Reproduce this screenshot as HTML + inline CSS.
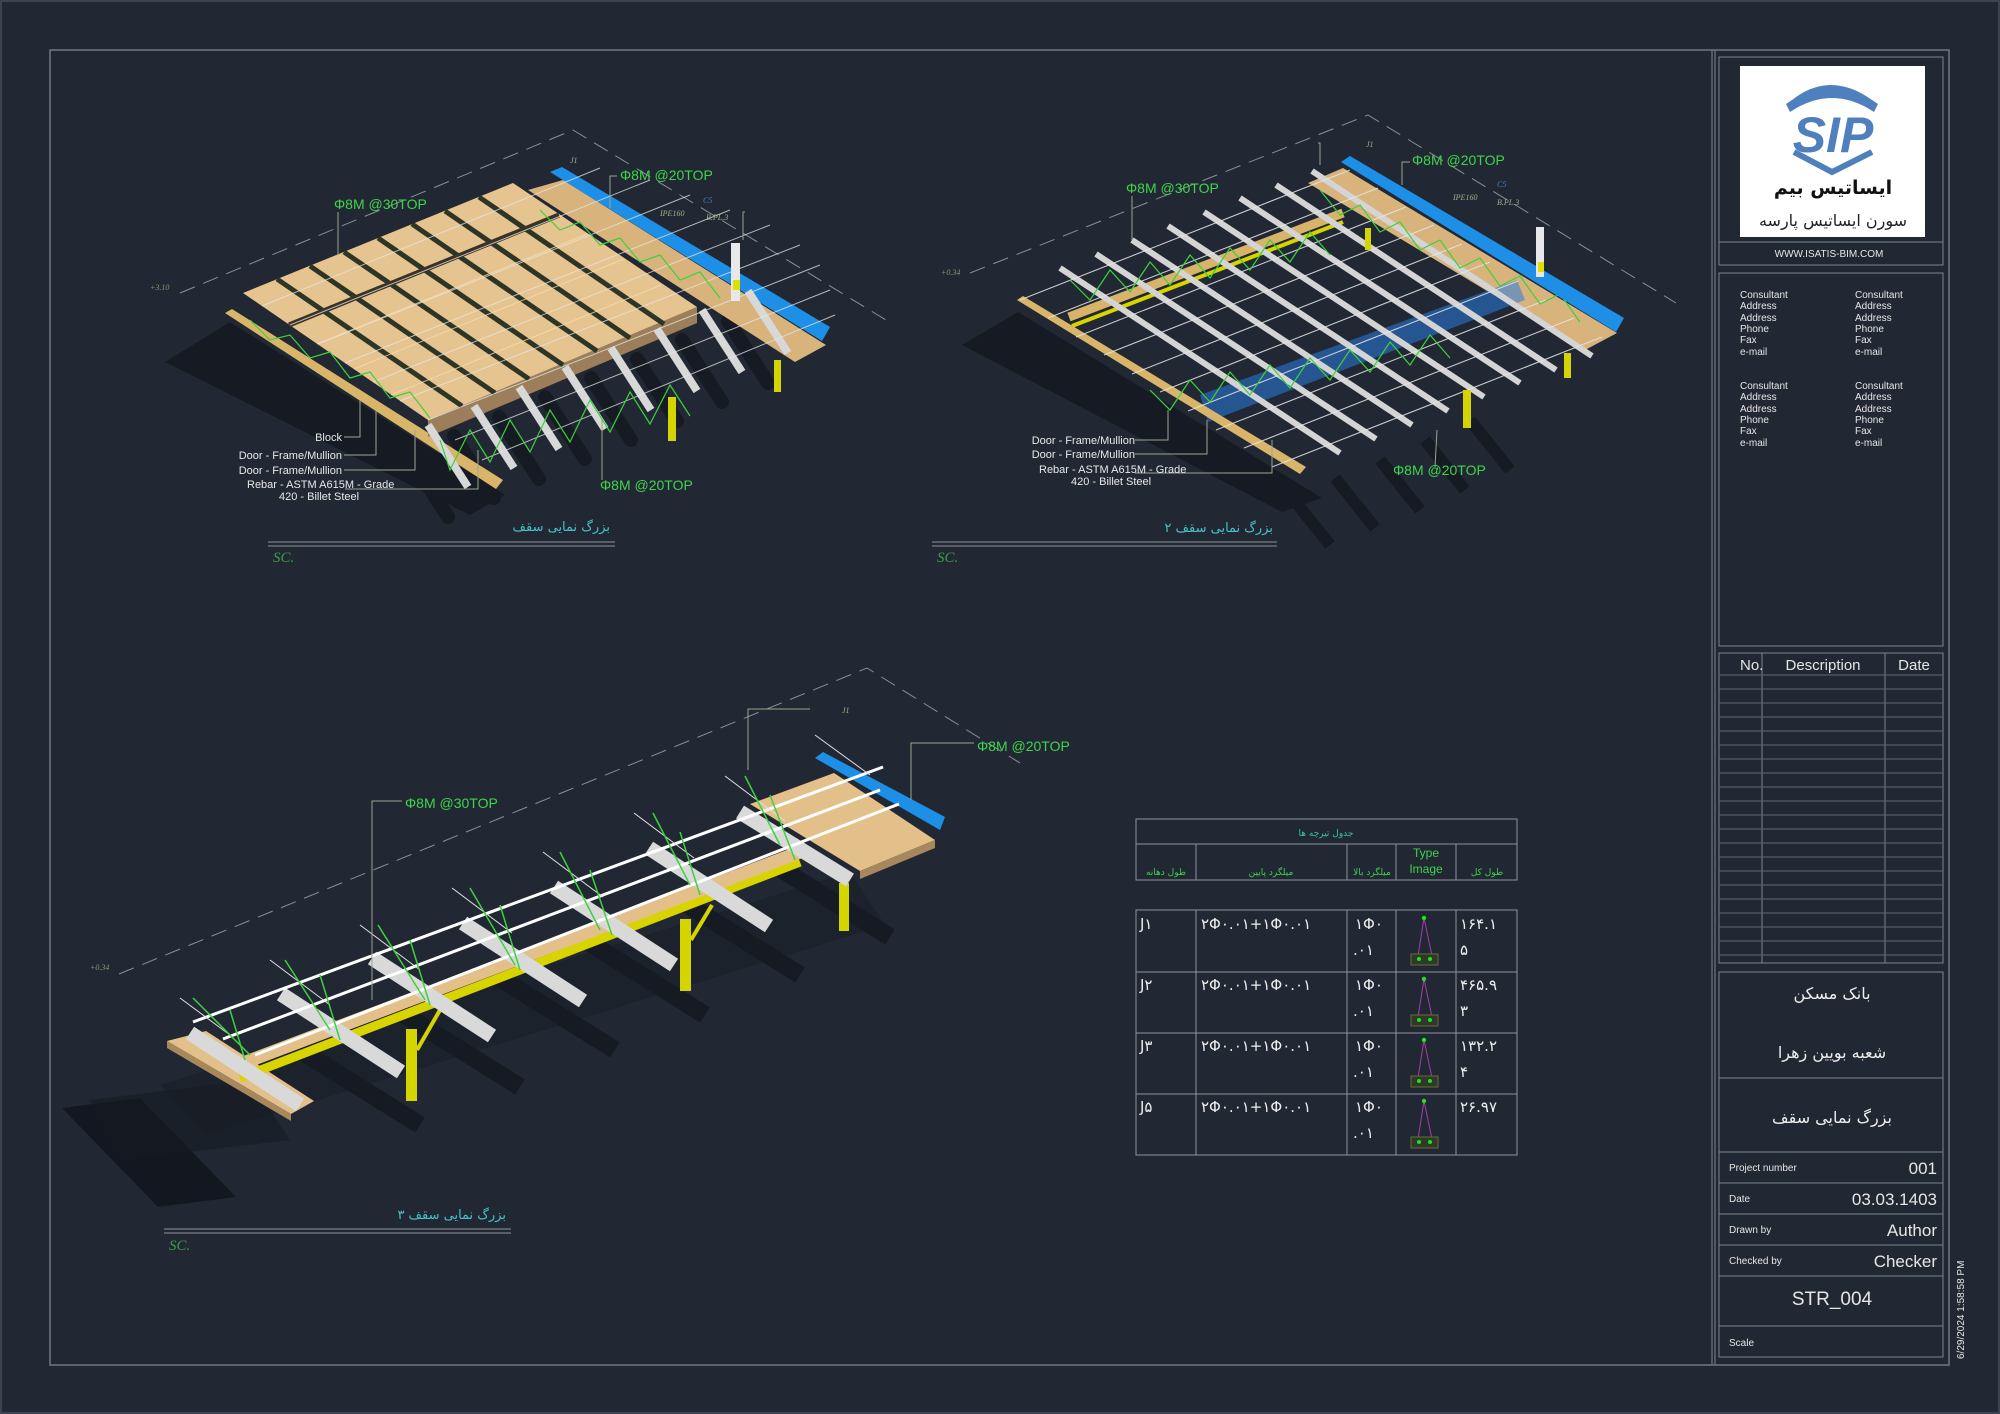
<!DOCTYPE html>
<html><head><meta charset="utf-8"><style>
html,body{margin:0;padding:0;background:#222833;}
svg{display:block}
.lb{font-family:"Liberation Sans",sans-serif;fill:#e8e8e8;font-size:11px}
.gr{font-family:"Liberation Sans",sans-serif;fill:#3fd44c;font-size:14px}
.fa{font-family:"DejaVu Sans","Liberation Sans",sans-serif}
.cap{font-family:"DejaVu Sans",sans-serif;fill:#45c4c8;font-size:13px}
.sc{font-family:"Liberation Serif",serif;font-style:italic;fill:#3a9a4a;font-size:15px}
.tb{font-family:"Liberation Sans",sans-serif;fill:#e6e6e6}
.tiny{font-family:"Liberation Serif",serif;font-style:italic;font-size:8px}
</style></head><body>
<svg width="2000" height="1414" viewBox="0 0 2000 1414" xmlns="http://www.w3.org/2000/svg">
<rect x="0" y="0" width="2000" height="1414" fill="#222833"/>
<rect x="1" y="1" width="1998" height="1412" fill="none" stroke="#3a4350" stroke-width="2"/>
<!-- frame -->
<rect x="50" y="50" width="1899" height="1315" fill="none" stroke="#6e7886" stroke-width="1.5"/>
<line x1="1712" y1="50" x2="1712" y2="1365" stroke="#6e7886" stroke-width="1.2"/>
<line x1="1715" y1="50" x2="1715" y2="1365" stroke="#6e7886" stroke-width="1.2"/>

<!-- ================= VIEW 1 ================= -->
<g>
<polyline points="180,293 573,130 886,320" fill="none" stroke="#8a8f96" stroke-width="1" stroke-dasharray="16 9"/>
<polygon points="165,362 230,322 505,495 470,515" fill="#161b23"/>
<g stroke="#161b23" stroke-width="14" stroke-linecap="round">
<line x1="408" y1="455" x2="448" y2="517"/><line x1="454" y1="436" x2="494" y2="498"/><line x1="499" y1="417" x2="539" y2="479"/><line x1="545" y1="397" x2="585" y2="459"/><line x1="591" y1="378" x2="631" y2="440"/><line x1="637" y1="359" x2="677" y2="421"/><line x1="682" y1="340" x2="722" y2="402"/><line x1="728" y1="321" x2="768" y2="383"/>
</g>
<polygon points="225,313 232,309 503,480 496,489" fill="#d9b56a"/>
<polygon points="428,420 697,307 697,323 428,437" fill="#9c7f5a"/>
<polygon points="243,293 513,183 697,307 428,420" fill="#e6c48f"/>
<g stroke="#2d3526" stroke-width="5">
<line x1="277" y1="279" x2="462" y2="406"/><line x1="310" y1="266" x2="495" y2="393"/><line x1="344" y1="252" x2="529" y2="379"/><line x1="378" y1="238" x2="563" y2="365"/><line x1="412" y1="224" x2="597" y2="351"/><line x1="445" y1="211" x2="630" y2="338"/><line x1="479" y1="197" x2="664" y2="324"/>
</g>
<line x1="289" y1="325" x2="559" y2="215" stroke="#3a3226" stroke-width="5"/>
<g stroke="#f5dcb0" stroke-width="1" opacity=".8">
<line x1="317" y1="344" x2="587" y2="234"/><line x1="354" y1="369" x2="624" y2="259"/><line x1="391" y1="395" x2="661" y2="285"/>
</g>
<polygon points="528,190 563,180 826,345 795,362" fill="#d8b47c"/>
<polygon points="550,172 562,167 830,327 822,341" fill="#1e8fe6"/>
<g stroke="#d8d8d8" stroke-width="8">
<line x1="428" y1="425" x2="468" y2="487"/><line x1="474" y1="406" x2="514" y2="468"/><line x1="519" y1="387" x2="559" y2="449"/><line x1="565" y1="367" x2="605" y2="429"/><line x1="611" y1="348" x2="651" y2="410"/><line x1="657" y1="329" x2="697" y2="391"/><line x1="702" y1="310" x2="742" y2="372"/><line x1="748" y1="291" x2="788" y2="353"/>
</g>
<g stroke="#e6e6e6" stroke-width="1" opacity=".75">
<line x1="262" y1="306" x2="600" y2="168"/><line x1="290" y1="325" x2="650" y2="180"/><line x1="318" y1="344" x2="690" y2="195"/><line x1="345" y1="363" x2="730" y2="210"/><line x1="373" y1="382" x2="770" y2="225"/><line x1="400" y1="401" x2="800" y2="245"/><line x1="428" y1="420" x2="820" y2="265"/><line x1="455" y1="440" x2="830" y2="290"/><line x1="482" y1="460" x2="835" y2="315"/>
</g>
<g stroke="#3bd23b" stroke-width="1.2" fill="none">
<polyline points="540,210 560,230 580,222 600,245 620,238 640,262 660,255 680,280 700,272 720,298"/>
<polyline points="440,440 450,470 470,430 490,462 510,420 530,452 550,410 570,442 590,400 610,432 630,392 650,424 670,385 690,416"/>
<polyline points="250,320 270,340 290,335 310,358 330,352 350,378 370,372 390,398 410,392 430,418"/>
</g>
<rect x="731" y="243" width="9" height="58" fill="#e8e8e8"/>
<rect x="733" y="280" width="7" height="10" fill="#e0e000"/>
<rect x="668" y="397" width="8" height="44" fill="#d4d400"/>
<rect x="774" y="360" width="7" height="32" fill="#d4d400"/>
<!-- leaders -->
<g stroke="#9aa48e" stroke-width="1" fill="none">
<polyline points="338,212 338,255"/><polyline points="617,176 610,176 610,208"/><polyline points="602,480 602,420"/>
<polyline points="344,437 360,437 360,400"/><polyline points="344,455 376,455 376,410"/><polyline points="344,470 415,470 415,430"/><polyline points="345,489 478,489 478,450"/>
<polyline points="745,212 743,212 743,240"/>
</g>
<text x="334" y="209" class="gr">Φ8M @30TOP</text>
<text x="620" y="180" class="gr">Φ8M @20TOP</text>
<text x="600" y="490" class="gr">Φ8M @20TOP</text>
<text x="570" y="163" class="tiny" fill="#9fb08a">J1</text>
<text x="703" y="203" class="tiny" fill="#4a7bd0">C5</text>
<text x="660" y="216" class="tiny" fill="#9fb08a">IPE160</text>
<text x="706" y="220" class="tiny" fill="#9fb08a">B.PL.3</text>
<text x="150" y="290" class="tiny" fill="#7f9a6f">+3.10</text>
<text x="342" y="441" class="lb" text-anchor="end">Block</text>
<text x="342" y="459" class="lb" text-anchor="end">Door - Frame/Mullion</text>
<text x="342" y="474" class="lb" text-anchor="end">Door - Frame/Mullion</text>
<text x="247" y="488" class="lb">Rebar - ASTM A615M - Grade</text>
<text x="279" y="500" class="lb">420 - Billet Steel</text>
<text x="610" y="531" class="cap" text-anchor="end">بزرگ نمایی سقف</text>
<line x1="268" y1="542" x2="615" y2="542" stroke="#8c939c" stroke-width="1"/>
<line x1="268" y1="546" x2="615" y2="546" stroke="#8c939c" stroke-width="1"/>
<text x="273" y="562" class="sc">SC.</text>
</g>

<!-- ================= VIEW 2 ================= -->
<g>
<polyline points="970,273 1368,115 1676,303" fill="none" stroke="#8a8f96" stroke-width="1" stroke-dasharray="16 9"/>
<polygon points="962,345 1018,312 1322,498 1282,512" fill="#161b23"/>
<g stroke="#161b23" stroke-width="12">
<line x1="1290" y1="495" x2="1330" y2="545"/><line x1="1335" y1="478" x2="1375" y2="528"/><line x1="1380" y1="460" x2="1420" y2="510"/><line x1="1425" y1="440" x2="1465" y2="490"/><line x1="1470" y1="420" x2="1510" y2="470"/>
</g>
<polygon points="1308,183 1343,168 1617,333 1585,350" fill="#d8b47c"/>
<line x1="1069" y1="317" x2="1343" y2="213" stroke="#d8b36a" stroke-width="9"/>
<line x1="1072" y1="326" x2="1343" y2="222" stroke="#d8d400" stroke-width="4"/>
<polygon points="1200,395 1517,280 1525,300 1208,422" fill="#2a7be0" opacity=".55"/>
<polygon points="1017,300 1023,296 1306,467 1300,474" fill="#d9b56a"/>
<g stroke="#d4d4d4" stroke-width="6">
<line x1="1060" y1="268" x2="1340" y2="453"/><line x1="1096" y1="254" x2="1376" y2="439"/><line x1="1132" y1="240" x2="1412" y2="425"/><line x1="1168" y1="226" x2="1448" y2="411"/><line x1="1204" y1="212" x2="1484" y2="397"/><line x1="1240" y1="198" x2="1520" y2="383"/><line x1="1276" y1="185" x2="1556" y2="370"/><line x1="1312" y1="171" x2="1592" y2="356"/>
</g>
<g stroke="#e6e6e6" stroke-width="1.1" opacity=".85">
<line x1="1020" y1="300" x2="1350" y2="170"/><line x1="1048" y1="318" x2="1378" y2="188"/><line x1="1076" y1="337" x2="1406" y2="207"/><line x1="1104" y1="355" x2="1434" y2="225"/><line x1="1132" y1="374" x2="1462" y2="244"/><line x1="1160" y1="392" x2="1490" y2="262"/><line x1="1188" y1="411" x2="1518" y2="281"/><line x1="1216" y1="430" x2="1546" y2="300"/><line x1="1244" y1="448" x2="1574" y2="318"/><line x1="1272" y1="467" x2="1602" y2="337"/>
</g>
<g stroke="#3bd23b" stroke-width="1.2" fill="none">
<polyline points="1070,280 1090,300 1110,270 1130,292 1150,262 1170,285 1190,255 1210,278 1230,248 1250,270 1270,240 1290,262 1310,232 1330,255"/>
<polyline points="1150,390 1170,410 1190,380 1210,402 1230,372 1250,395 1270,365 1290,388 1310,358 1330,380 1350,350 1370,372 1390,342 1410,365 1430,335 1450,358"/>
<polyline points="1320,190 1340,215 1360,205 1380,232 1400,222 1420,250 1440,240 1460,268 1480,258 1500,286 1520,276 1540,304 1560,294 1580,322"/>
</g>
<polygon points="1341,162 1350,156 1624,318 1616,332" fill="#1e8fe6"/>
<rect x="1536" y="227" width="8" height="50" fill="#e8e8e8"/>
<rect x="1538" y="262" width="6" height="10" fill="#e0e000"/>
<rect x="1463" y="390" width="8" height="38" fill="#d4d400"/>
<rect x="1564" y="353" width="7" height="25" fill="#d4d400"/>
<rect x="1365" y="228" width="6" height="22" fill="#d4d400"/>
<g stroke="#9aa48e" stroke-width="1" fill="none">
<polyline points="1132,196 1132,240"/><polyline points="1410,162 1402,162 1402,185"/><polyline points="1435,467 1437,430"/>
<polyline points="1135,440 1168,440 1168,410"/><polyline points="1135,454 1207,454 1207,420"/><polyline points="1135,473 1272,473 1272,440"/>
<polyline points="1318,143 1320,143 1320,165"/>
</g>
<text x="1126" y="193" class="gr">Φ8M @30TOP</text>
<text x="1412" y="165" class="gr">Φ8M @20TOP</text>
<text x="1393" y="475" class="gr">Φ8M @20TOP</text>
<text x="1366" y="147" class="tiny" fill="#9fb08a">J1</text>
<text x="1497" y="187" class="tiny" fill="#4a7bd0">C5</text>
<text x="1453" y="200" class="tiny" fill="#9fb08a">IPE160</text>
<text x="1497" y="205" class="tiny" fill="#9fb08a">B.PL.3</text>
<text x="941" y="275" class="tiny" fill="#7f9a6f">+0.34</text>
<text x="1135" y="444" class="lb" text-anchor="end">Door - Frame/Mullion</text>
<text x="1135" y="458" class="lb" text-anchor="end">Door - Frame/Mullion</text>
<text x="1039" y="473" class="lb">Rebar - ASTM A615M - Grade</text>
<text x="1071" y="485" class="lb">420 - Billet Steel</text>
<text x="1273" y="532" class="cap" text-anchor="end">بزرگ نمایی سقف ۲</text>
<line x1="932" y1="542" x2="1277" y2="542" stroke="#8c939c" stroke-width="1"/>
<line x1="932" y1="546" x2="1277" y2="546" stroke="#8c939c" stroke-width="1"/>
<text x="937" y="562" class="sc">SC.</text>
</g>

<!-- ================= VIEW 3 ================= -->
<g>
<polyline points="119,974 867,668 1020,763" fill="none" stroke="#8a8f96" stroke-width="1" stroke-dasharray="16 9"/>
<polygon points="160,1085 850,872 885,925 205,1135" fill="#161b23" opacity=".45"/>
<polygon points="62,1108 140,1098 236,1197 158,1207" fill="#131820"/>
<polygon points="90,1100 250,1080 290,1140 120,1160" fill="#161b23" opacity=".6"/>
<g stroke="#161b23" stroke-width="18">
<line x1="300" y1="1050" x2="420" y2="1125"/><line x1="400" y1="1012" x2="520" y2="1087"/><line x1="495" y1="975" x2="615" y2="1050"/><line x1="585" y1="940" x2="705" y2="1015"/><line x1="680" y1="900" x2="800" y2="975"/><line x1="770" y1="862" x2="890" y2="937"/>
</g>
<polygon points="167,1041 206,1031 314,1101 291,1114" fill="#e3c089"/>
<polygon points="167,1041 291,1114 291,1121 167,1048" fill="#a7875c"/>
<polygon points="750,804 834,773 935,840 860,871" fill="#e3c089"/>
<polygon points="860,871 935,840 935,848 860,879" fill="#a7875c"/>
<line x1="240" y1="1078" x2="800" y2="862" stroke="#d8d400" stroke-width="9"/>
<line x1="230" y1="1068" x2="800" y2="852" stroke="#e3c089" stroke-width="13"/>
<g fill="#d4d400">
<rect x="406" y="1029" width="11" height="72"/><rect x="680" y="919" width="11" height="72"/><rect x="839" y="883" width="10" height="48"/>
</g>
<g stroke="#d4d400" stroke-width="4"><line x1="417" y1="1050" x2="440" y2="1010"/><line x1="691" y1="940" x2="712" y2="905"/></g>
<g stroke="#d9d9d9" stroke-width="15">
<line x1="190" y1="1033" x2="300" y2="1105"/><line x1="281" y1="994" x2="401" y2="1072"/><line x1="372" y1="958" x2="492" y2="1036"/><line x1="463" y1="923" x2="583" y2="1001"/><line x1="554" y1="887" x2="674" y2="965"/><line x1="649" y1="848" x2="769" y2="926"/><line x1="740" y1="812" x2="850" y2="880"/>
</g>
<polygon points="815,758 823,752 945,817 940,830" fill="#1e8fe6"/>
<g stroke="#ffffff" stroke-width="3">
<line x1="193" y1="1022" x2="883" y2="767"/><line x1="223" y1="1039" x2="880" y2="790"/><line x1="255" y1="1055" x2="899" y2="804"/>
</g>
<g stroke="#e0e0e0" stroke-width="1">
<line x1="180" y1="998" x2="230" y2="1035"/><line x1="270" y1="960" x2="330" y2="1005"/><line x1="360" y1="925" x2="420" y2="970"/><line x1="452" y1="888" x2="512" y2="933"/><line x1="543" y1="852" x2="603" y2="897"/><line x1="634" y1="813" x2="694" y2="858"/><line x1="725" y1="776" x2="785" y2="821"/><line x1="815" y1="735" x2="870" y2="775"/>
</g>
<g stroke="#3bd23b" stroke-width="1.5">
<line x1="193" y1="998" x2="250" y2="1055"/><line x1="285" y1="960" x2="330" y2="1030"/><line x1="378" y1="925" x2="425" y2="1000"/><line x1="470" y1="888" x2="515" y2="965"/><line x1="560" y1="852" x2="600" y2="930"/><line x1="653" y1="813" x2="690" y2="885"/><line x1="745" y1="776" x2="780" y2="845"/>
<line x1="230" y1="1010" x2="245" y2="1060"/><line x1="320" y1="975" x2="340" y2="1040"/><line x1="410" y1="940" x2="430" y2="1005"/><line x1="500" y1="905" x2="520" y2="970"/><line x1="590" y1="870" x2="612" y2="935"/><line x1="680" y1="832" x2="700" y2="895"/><line x1="770" y1="795" x2="795" y2="860"/>
</g>
<g stroke="#9aa48e" stroke-width="1" fill="none">
<polyline points="402,801 372,801 372,1000"/><polyline points="974,743 911,743 911,800"/><polyline points="810,709 748,709 748,770"/>
</g>
<text x="405" y="808" class="gr">Φ8M @30TOP</text>
<text x="977" y="751" class="gr">Φ8M @20TOP</text>
<text x="842" y="713" class="tiny" fill="#9fb08a">J1</text>
<text x="90" y="970" class="tiny" fill="#7f9a6f">+0.34</text>
<text x="506" y="1219" class="cap" text-anchor="end">بزرگ نمایی سقف ۳</text>
<line x1="164" y1="1229" x2="511" y2="1229" stroke="#8c939c" stroke-width="1"/>
<line x1="164" y1="1233" x2="511" y2="1233" stroke="#8c939c" stroke-width="1"/>
<text x="169" y="1250" class="sc">SC.</text>
</g>

<!-- ================= SCHEDULE TABLE ================= -->
<g stroke="#8d949c" stroke-width="1" fill="none">
<rect x="1136" y="819" width="381" height="61"/>
<line x1="1136" y1="844" x2="1517" y2="844"/>
<line x1="1196" y1="844" x2="1196" y2="880"/><line x1="1347" y1="844" x2="1347" y2="880"/><line x1="1396" y1="844" x2="1396" y2="880"/><line x1="1456" y1="844" x2="1456" y2="880"/>
<rect x="1136" y="910" width="381" height="245"/>
<line x1="1136" y1="972" x2="1517" y2="972"/><line x1="1136" y1="1033" x2="1517" y2="1033"/><line x1="1136" y1="1094" x2="1517" y2="1094"/>
<line x1="1196" y1="910" x2="1196" y2="1155"/><line x1="1347" y1="910" x2="1347" y2="1155"/><line x1="1396" y1="910" x2="1396" y2="1155"/><line x1="1456" y1="910" x2="1456" y2="1155"/>
</g>
<text x="1326" y="836" class="fa" fill="#35c6a8" font-size="9" text-anchor="middle">جدول تیرچه ها</text>
<g class="fa" fill="#3dd34a" font-size="9" text-anchor="middle">
<text x="1166" y="875">طول دهانه</text>
<text x="1271" y="875">میلگرد پایین</text>
<text x="1372" y="875">میلگرد بالا</text>
<text x="1487" y="875">طول کل</text>
</g>
<text x="1426" y="857" class="tb" fill="#3dd34a" style="fill:#3dd34a" font-size="12" text-anchor="middle">Type</text>
<text x="1426" y="873" class="tb" style="fill:#3dd34a" font-size="12" text-anchor="middle">Image</text>
<g class="fa" fill="#eeeeee" font-size="15">
<text x="1140" y="929">J۱</text><text x="1140" y="990">J۲</text><text x="1140" y="1051">J۳</text><text x="1140" y="1112">J۵</text>
<text x="1201" y="929">۲Φ۰.۰۱+۱Φ۰.۰۱</text><text x="1201" y="990">۲Φ۰.۰۱+۱Φ۰.۰۱</text><text x="1201" y="1051">۲Φ۰.۰۱+۱Φ۰.۰۱</text><text x="1201" y="1112">۲Φ۰.۰۱+۱Φ۰.۰۱</text>
<text x="1355" y="929">۱Φ۰</text><text x="1353" y="955">.۰۱</text>
<text x="1355" y="990">۱Φ۰</text><text x="1353" y="1016">.۰۱</text>
<text x="1355" y="1051">۱Φ۰</text><text x="1353" y="1077">.۰۱</text>
<text x="1355" y="1112">۱Φ۰</text><text x="1353" y="1138">.۰۱</text>
<text x="1460" y="929">۱۶۴.۱</text><text x="1460" y="955">۵</text>
<text x="1460" y="990">۴۶۵.۹</text><text x="1460" y="1016">۳</text>
<text x="1460" y="1051">۱۳۲.۲</text><text x="1460" y="1077">۴</text>
<text x="1460" y="1112">۲۶.۹۷</text>
</g>
<g id="ti">
<polyline points="1418,956 1424,918 1432,956" fill="none" stroke="#a040a0" stroke-width="1"/>
<rect x="1411" y="954" width="27" height="11" fill="#2d3a28" stroke="#6a6a3a" stroke-width="1"/>
<circle cx="1424" cy="918" r="2.2" fill="#22e022"/><circle cx="1419" cy="959" r="2" fill="#22e022"/><circle cx="1430" cy="959" r="2" fill="#22e022"/>
</g>
<use href="#ti" transform="translate(0,61)"/>
<use href="#ti" transform="translate(0,122)"/>
<use href="#ti" transform="translate(0,183)"/>

<!-- ================= TITLE BLOCK ================= -->
<g stroke="#7b838d" stroke-width="1" fill="none">
<rect x="1719" y="57" width="224" height="208"/>
<line x1="1719" y1="242" x2="1943" y2="242"/>
<rect x="1719" y="273" width="224" height="373"/>
<rect x="1719" y="653" width="224" height="310"/>
<rect x="1719" y="972" width="224" height="385"/>
<line x1="1719" y1="1078" x2="1943" y2="1078"/>
<line x1="1719" y1="1152" x2="1943" y2="1152"/><line x1="1719" y1="1183" x2="1943" y2="1183"/><line x1="1719" y1="1214" x2="1943" y2="1214"/><line x1="1719" y1="1245" x2="1943" y2="1245"/><line x1="1719" y1="1276" x2="1943" y2="1276"/><line x1="1719" y1="1326" x2="1943" y2="1326"/>
<line x1="1762" y1="653" x2="1762" y2="963"/><line x1="1885" y1="653" x2="1885" y2="963"/>
</g>
<g stroke="#5f6771" stroke-width="1">
<line x1="1719" y1="675" x2="1943" y2="675"/><line x1="1719" y1="689" x2="1943" y2="689"/><line x1="1719" y1="703" x2="1943" y2="703"/><line x1="1719" y1="717" x2="1943" y2="717"/><line x1="1719" y1="731" x2="1943" y2="731"/><line x1="1719" y1="745" x2="1943" y2="745"/><line x1="1719" y1="759" x2="1943" y2="759"/><line x1="1719" y1="773" x2="1943" y2="773"/><line x1="1719" y1="787" x2="1943" y2="787"/><line x1="1719" y1="801" x2="1943" y2="801"/><line x1="1719" y1="815" x2="1943" y2="815"/><line x1="1719" y1="829" x2="1943" y2="829"/><line x1="1719" y1="843" x2="1943" y2="843"/><line x1="1719" y1="857" x2="1943" y2="857"/><line x1="1719" y1="871" x2="1943" y2="871"/><line x1="1719" y1="885" x2="1943" y2="885"/><line x1="1719" y1="899" x2="1943" y2="899"/><line x1="1719" y1="913" x2="1943" y2="913"/><line x1="1719" y1="927" x2="1943" y2="927"/><line x1="1719" y1="941" x2="1943" y2="941"/><line x1="1719" y1="955" x2="1943" y2="955"/>
</g>
<!-- logo -->
<rect x="1740" y="66" width="185" height="171" fill="#ffffff"/>
<path d="M1792,100 Q1830,70 1872,100 L1878,104 L1874,112 Q1832,84 1790,112 L1786,104 Z" fill="#4f80bd"/>
<path d="M1794,152 L1832,172 L1872,152" fill="none" stroke="#4f80bd" stroke-width="6"/>
<text x="1833" y="152" font-family="Liberation Sans,sans-serif" font-weight="bold" font-style="italic" font-size="50" fill="#4f80bd" text-anchor="middle">SIP</text>
<text x="1833" y="194" class="fa" font-weight="bold" font-size="19" fill="#111" text-anchor="middle">ایساتیس بیم</text>
<text x="1833" y="226" class="fa" font-size="16" fill="#222" text-anchor="middle">سورن ایساتیس پارسه</text>
<text x="1829" y="257" class="tb" font-size="10" text-anchor="middle">WWW.ISATIS-BIM.COM</text>
<g class="tb" font-size="10">
<text x="1740" y="298">Consultant</text><text x="1740" y="309">Address</text><text x="1740" y="321">Address</text><text x="1740" y="332">Phone</text><text x="1740" y="343">Fax</text><text x="1740" y="355">e-mail</text>
<text x="1855" y="298">Consultant</text><text x="1855" y="309">Address</text><text x="1855" y="321">Address</text><text x="1855" y="332">Phone</text><text x="1855" y="343">Fax</text><text x="1855" y="355">e-mail</text>
<text x="1740" y="389">Consultant</text><text x="1740" y="400">Address</text><text x="1740" y="412">Address</text><text x="1740" y="423">Phone</text><text x="1740" y="434">Fax</text><text x="1740" y="446">e-mail</text>
<text x="1855" y="389">Consultant</text><text x="1855" y="400">Address</text><text x="1855" y="412">Address</text><text x="1855" y="423">Phone</text><text x="1855" y="434">Fax</text><text x="1855" y="446">e-mail</text>
</g>
<text x="1740" y="670" class="tb" font-size="15">No.</text>
<text x="1823" y="670" class="tb" font-size="15" text-anchor="middle">Description</text>
<text x="1914" y="670" class="tb" font-size="15" text-anchor="middle">Date</text>
<g class="fa" fill="#eeeeee" font-size="16" text-anchor="middle">
<text x="1832" y="999">بانک مسکن</text>
<text x="1832" y="1058">شعبه بویین زهرا</text>
<text x="1832" y="1123">بزرگ نمایی سقف</text>
</g>
<g class="tb" font-size="10">
<text x="1729" y="1171">Project number</text><text x="1729" y="1202">Date</text><text x="1729" y="1233">Drawn by</text><text x="1729" y="1264">Checked by</text><text x="1729" y="1346">Scale</text>
</g>
<g class="tb" font-size="17" text-anchor="end">
<text x="1937" y="1174">001</text><text x="1937" y="1205">03.03.1403</text><text x="1937" y="1236">Author</text><text x="1937" y="1267">Checker</text>
</g>
<text x="1832" y="1305" class="tb" font-size="19" text-anchor="middle">STR_004</text>
<text transform="translate(1964,1359) rotate(-90)" class="tb" font-size="10">6/29/2024 1:58:58 PM</text>
</svg>
</body></html>
